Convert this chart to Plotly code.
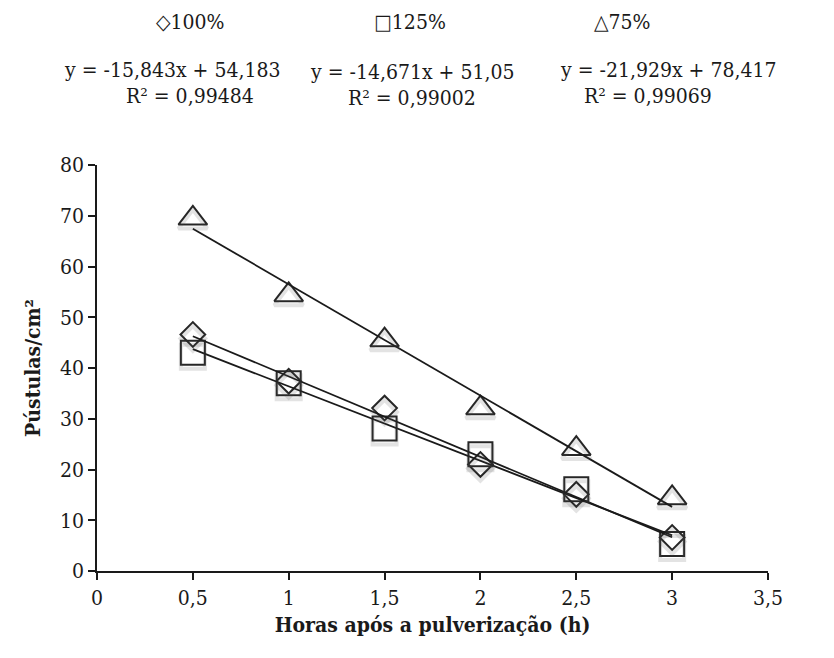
import plotly.graph_objects as go

# Hours after spraying
horas = [0.5, 1.0, 1.5, 2.0, 2.5, 3.0]

# Pustules per cm² for each dose
p100 = [46.6, 37.4, 32.1, 21.0, 15.1, 6.6]
p125 = [43.0, 37.0, 28.1, 23.0, 16.1, 5.3]
p75 = [69.5, 54.4, 45.5, 32.1, 24.1, 14.4]

# Linear trend coefficients (slope, intercept) and R²
fit100 = (-15.843, 54.183, 0.99484)
fit125 = (-14.671, 51.05, 0.99002)
fit75 = (-21.929, 78.417, 0.99069)

x_ticks = [0, 0.5, 1, 1.5, 2, 2.5, 3, 3.5]
x_tick_text = ["0", "0,5", "1", "1,5", "2", "2,5", "3", "3,5"]
y_ticks = [0, 10, 20, 30, 40, 50, 60, 70, 80]

FONT = "DejaVu Serif Condensed"
FS = 21
series = [
    ("100%", p100, fit100, "diamond-open", 19),
    ("125%", p125, fit125, "square-open", 24),
    ("75%", p75, fit75, "triangle-up-open", 25),
]

fig = go.Figure()

# soft drop shadow beneath each marker (shadow axis shares the scale, shifted range)
for name, ys, fit, sym, size in series:
    fig.add_trace(go.Scatter(
        x=horas, y=ys, mode="markers", yaxis="y2", showlegend=False,
        hoverinfo="skip",
        marker=dict(symbol=sym, size=size, color="rgba(80,80,80,0.16)",
                    line=dict(width=4, color="rgba(80,80,80,0.16)")),
    ))

for name, ys, fit, sym, size in series:
    fig.add_trace(go.Scatter(
        x=horas, y=ys, mode="markers", name=name, showlegend=False,
        marker=dict(symbol=sym, size=size, color="#262626",
                    line=dict(width=2, color="#262626")),
    ))

# trend lines drawn from the fitted equations over the sampled range
for name, ys, fit, sym, size in series:
    a, b, _ = fit
    xs = [horas[0], horas[-1]]
    fig.add_trace(go.Scatter(
        x=xs, y=[a * v + b for v in xs], mode="lines", showlegend=False,
        line=dict(color="#1a1a1a", width=1.8),
    ))


def fmt(v):
    return f"{v}".replace(".", ",")


labels = [
    ("\u25C7100%", 190, fit100, 172, 190, 0),
    ("\u25A1125%", 410, fit125, 412, 412, 2),
    ("\u25B375%", 622, fit75, 668, 648, 0),
]
W, H = 834, 658
ML, MR, MT, MB = 97, 66, 165, 87
pw, ph = W - ML - MR, H - MT - MB


def px_ann(text, x, y):
    return dict(
        text=text, xref="paper", yref="paper",
        x=(x - ML) / pw, y=1 - (y - MT) / ph,
        showarrow=False, xanchor="center", yanchor="middle",
        font=dict(family=FONT, size=FS, color="#1a1a1a"),
    )


ann_objs = []
for head, hx, fit, ex, rx, dy in labels:
    a, b, r2 = fit
    ann_objs.append(px_ann(head, hx, 22))
    ann_objs.append(px_ann(f"y = {fmt(a)}x + {fmt(b)}", ex, 70 + dy))
    ann_objs.append(px_ann(f"R² = {fmt(r2)}", rx, 96 + dy))

shadow_dy = 4 * 80 / ph

fig.update_layout(
    width=W, height=H,
    margin=dict(l=ML, r=MR, t=MT, b=MB),
    paper_bgcolor="white", plot_bgcolor="white",
    font=dict(family=FONT, size=FS, color="#1a1a1a"),
    annotations=ann_objs,
    xaxis=dict(
        range=[0, 3.5], tickvals=x_ticks, ticktext=x_tick_text,
        showgrid=False, zeroline=False, showline=True,
        linecolor="#1a1a1a", linewidth=1.5,
        ticks="outside", ticklen=7, tickwidth=1.5, tickcolor="#1a1a1a",
        tickfont=dict(family=FONT, size=FS),
        title=dict(text="<b>Horas após a pulverização (h)</b>", standoff=8,
                   font=dict(family=FONT, size=FS)),
    ),
    yaxis=dict(
        range=[0, 80], tickvals=y_ticks,
        showgrid=False, zeroline=False, showline=True,
        linecolor="#1a1a1a", linewidth=1.5,
        ticks="outside", ticklen=7, tickwidth=1.5, tickcolor="#1a1a1a",
        tickfont=dict(family=FONT, size=FS),
        title=dict(text="<b>Pústulas/cm²</b>", standoff=14,
                   font=dict(family=FONT, size=FS)),
    ),
    yaxis2=dict(
        range=[shadow_dy, 80 + shadow_dy], overlaying="y", visible=False,
    ),
)

fig.write_html("out.html")
